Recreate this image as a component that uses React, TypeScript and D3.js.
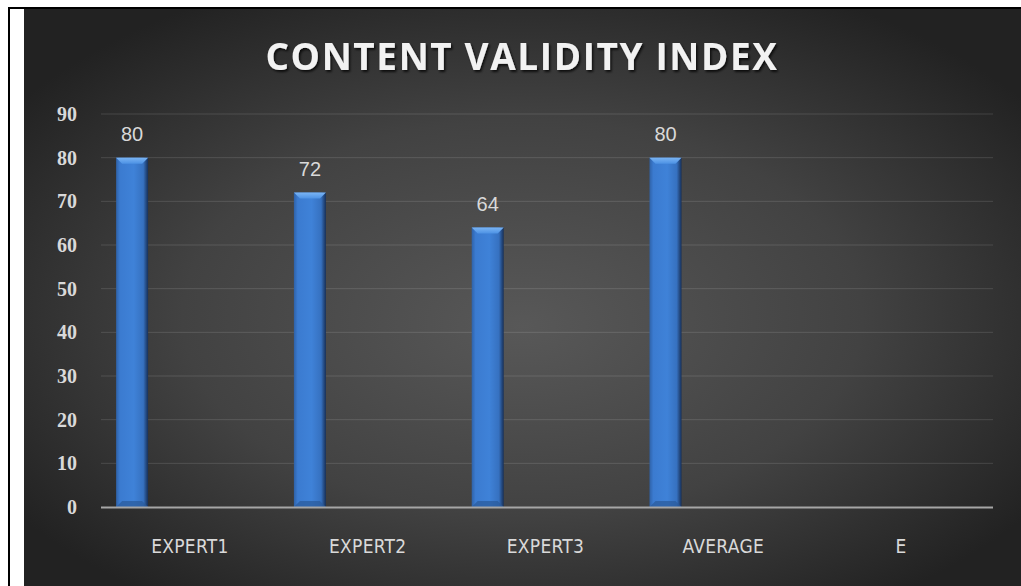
import React from "react";
import * as d3 from "d3";

const categories = ["EXPERT1", "EXPERT2", "EXPERT3", "AVERAGE", "E"];
const values: (number | null)[] = [80, 72, 64, 80, null];
const yTicks = [0, 10, 20, 30, 40, 50, 60, 70, 80, 90];
const title = "CONTENT VALIDITY INDEX";

const W = 1021;
const H = 586;

export default function App() {
  const x = d3.scaleBand<string>().domain(categories).range([101, 990]).paddingInner(0).paddingOuter(0);
  const y = d3.scaleLinear().domain([0, 90]).range([507, 114]);
  const bw = x.bandwidth();
  const barW = bw * 0.18;
  const barOff = bw * 0.085;

  return (
    <svg width={W} height={H} style={{ position: "absolute", left: 0, top: 0 }}>
      <defs>
        <radialGradient id="bg" cx="0.5" cy="0.52" r="0.62" fx="0.5" fy="0.55">
          <stop offset="0%" stopColor="#585858" />
          <stop offset="55%" stopColor="#424242" />
          <stop offset="100%" stopColor="#222222" />
        </radialGradient>
        <linearGradient id="bar" x1="0" x2="1" y1="0" y2="0">
          <stop offset="0%" stopColor="#2f62a8" />
          <stop offset="12%" stopColor="#3b7bd0" />
          <stop offset="55%" stopColor="#3f82d8" />
          <stop offset="85%" stopColor="#3671c0" />
          <stop offset="94%" stopColor="#24497f" />
          <stop offset="100%" stopColor="#16305a" />
        </linearGradient>
        <linearGradient id="bevel" x1="0" x2="0" y1="0" y2="1">
          <stop offset="0%" stopColor="#7ab4f4" />
          <stop offset="100%" stopColor="#4d92e4" />
        </linearGradient>
        <filter id="tshadow" x="-5%" y="-20%" width="110%" height="150%">
          <feDropShadow dx="1.5" dy="2" stdDeviation="1.2" floodColor="#000" floodOpacity="0.75" />
        </filter>
      </defs>
      <rect x={0} y={0} width={W} height={H} fill="#ffffff" />
      <rect x={8} y={7} width={W - 8} height={H - 7} fill="#000000" />
      <rect x={10} y={9} width={14} height={H - 9} fill="#ffffff" />
      <rect x={24} y={9} width={W - 24} height={H - 9} fill="url(#bg)" />

      <text
        x={522}
        y={70}
        textAnchor="middle"
        fill="#f2f2f2"
        fontFamily="'Open Sans', 'DejaVu Sans', sans-serif"
        fontWeight="bold"
        fontSize={37}
        letterSpacing={1.6}
        filter="url(#tshadow)"
      >
        {title}
      </text>

      {yTicks.map((t) =>
        t === 0 ? null : (
          <line key={"g" + t} x1={101} x2={993} y1={y(t)} y2={y(t)} stroke="#ffffff" strokeOpacity={0.13} strokeWidth={1} />
        )
      )}

      {yTicks.map((t) => (
        <text
          key={"yt" + t}
          x={77}
          y={y(t) + 7}
          textAnchor="end"
          fill="#d9d9d9"
          fontFamily="'Liberation Serif', 'DejaVu Serif', serif"
          fontWeight="bold"
          fontSize={20}
        >
          {t}
        </text>
      ))}

      {categories.map((c, i) => {
        const v = values[i];
        if (v == null) return null;
        const bx = (x(c) as number) + barOff;
        const top = y(v);
        const bot = y(0);
        const bev = 6;
        return (
          <g key={"b" + c}>
            <rect x={bx} y={top} width={barW} height={bot - top} fill="url(#bar)" />
            <polygon
              points={`${bx},${top} ${bx + barW},${top} ${bx + barW - bev},${top + bev} ${bx + bev},${top + bev}`}
              fill="url(#bevel)"
            />
            <polygon
              points={`${bx + bev},${bot - bev} ${bx + barW - bev},${bot - bev} ${bx + barW},${bot} ${bx},${bot}`}
              fill="#2a5a9a"
              opacity={0.7}
            />
            <text
              x={bx + barW / 2}
              y={top - 17}
              textAnchor="middle"
              fill="#d9d9d9"
              fontFamily="'Liberation Sans', 'DejaVu Sans', sans-serif"
              fontSize={20}
            >
              {v}
            </text>
          </g>
        );
      })}

      <line x1={101} x2={993} y1={y(0) + 0.5} y2={y(0) + 0.5} stroke="#a6a6a6" strokeWidth={2} />

      {categories.map((c) => (
        <text
          key={"xl" + c}
          x={(x(c) as number) + bw / 2}
          y={553}
          textAnchor="middle"
          fill="#d9d9d9"
          fontFamily="'DejaVu Sans Condensed', 'Liberation Sans Narrow', 'Liberation Sans', sans-serif"
          fontSize={19}
          letterSpacing={0.3}
        >
          {c}
        </text>
      ))}
    </svg>
  );
}
